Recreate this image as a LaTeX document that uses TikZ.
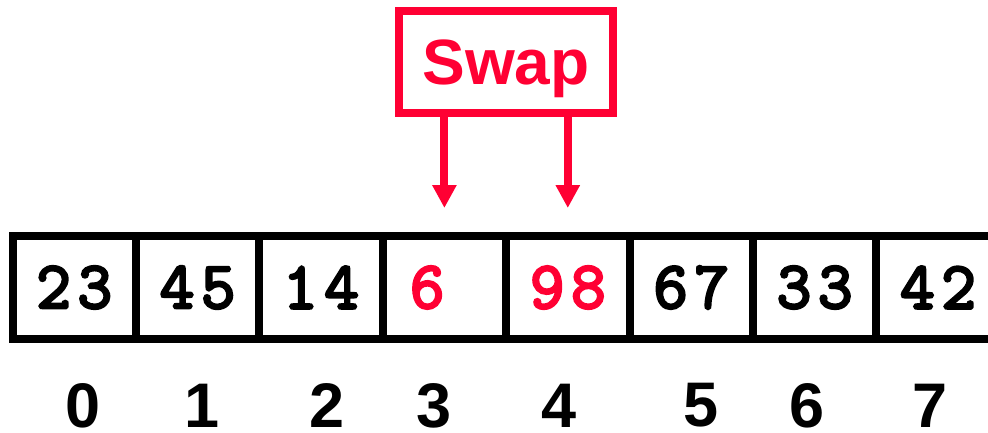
\documentclass[tikz,border=0pt]{standalone}
\usepackage{fontspec}
\setmainfont{Liberation Sans}
\newfontfamily\cellfont[FakeBold=4,LetterSpace=10]{Latin Modern Mono}
\usetikzlibrary{arrows.meta,positioning}
\definecolor{swapred}{RGB}{255,0,51}
\tikzset{
  cell/.style={draw,minimum width=123.4pt,minimum height=103pt,inner sep=0pt,outer sep=0pt,
    font=\cellfont\bfseries\fontsize{67}{67}\selectfont},
  idx/.style={inner sep=0pt,font=\bfseries\fontsize{63}{63}\selectfont},
}
\begin{document}
\begin{tikzpicture}[x=1pt,y=-1pt,line width=8pt,>={Triangle[width=23pt,length=23pt]}]
\useasboundingbox (0,0) rectangle (988,433);
% the array
\foreach \v/\c [count=\i from 0] in {23/black,45/black,14/black,{6\phantom{0}}/swapred,98/swapred,67/black,33/black,42/black}
  \node[cell,text=\c] (c\i) at (74.2+123.4*\i,287.5) {\v};
% indices
\foreach \x [count=\i from 0] in {83,202,327.5,434,559,701,807.5,930.5}
  \node[idx] (i\i) at (\x,405.5) {\i};
% swap box and arrows
\node[draw=swapred,text=swapred,minimum width=214pt,minimum height=102.5pt,inner sep=0pt,outer sep=0pt,
  text depth=0pt,font=\bfseries\fontsize{64}{64}\selectfont] (swap) at (506,62.2) {Swap};
\draw[->,swapred] (swap.south -| c3) -- ([yshift=28pt]c3.north);
\draw[->,swapred] (swap.south -| c4) -- ([yshift=28pt]c4.north);
\end{tikzpicture}
\end{document}
